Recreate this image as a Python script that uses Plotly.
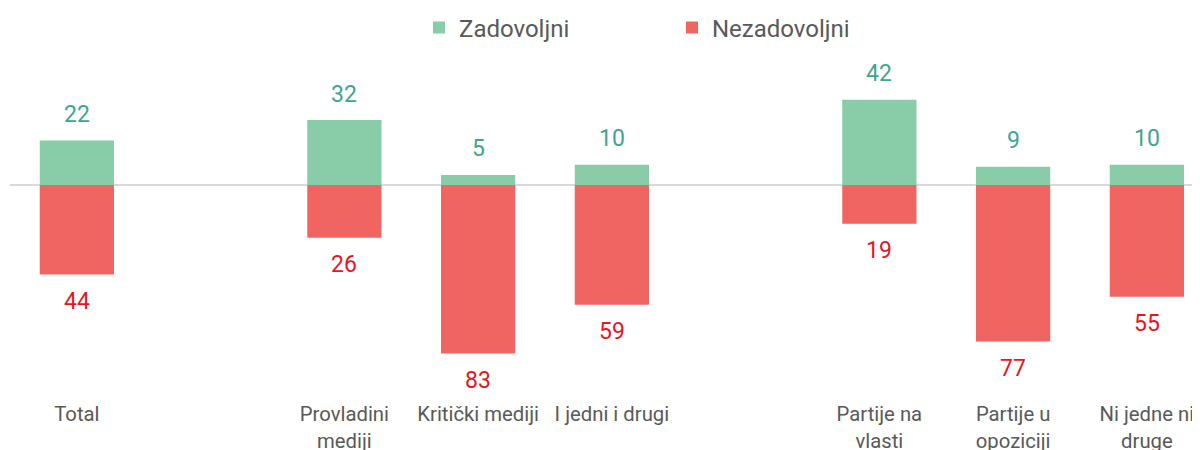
import plotly.graph_objects as go

categories = ["Total", " ", "Provladini<br>mediji", "Kritički mediji", "I jedni i drugi", "  ",
              "Partije na<br>vlasti", "Partije u<br>opoziciji", "Ni jedne ni<br>druge"]
zadovoljni = [22, None, 32, 5, 10, None, 42, 9, 10]
nezadovoljni = [44, None, 26, 83, 59, None, 19, 77, 55]

green = "#88CCA8"
red = "#F06462"
green_txt = "#3FA58E"
red_txt = "#E8141E"

fig = go.Figure()
fig.add_trace(go.Bar(
    x=categories, y=zadovoljni, name="Zadovoljni",
    marker=dict(color=green, line=dict(width=0)), width=0.555,
))
fig.add_trace(go.Bar(
    x=categories, y=[(-v if v is not None else None) for v in nezadovoljni], name="Nezadovoljni",
    marker=dict(color=red, line=dict(width=0)), width=0.555,
))

annotations = []
for c, v in zip(categories, zadovoljni):
    if v is not None:
        annotations.append(dict(x=c, y=v, text=str(v), showarrow=False, yshift=26,
                                font=dict(size=23, color=green_txt, family="Roboto")))
for c, v in zip(categories, nezadovoljni):
    if v is not None:
        annotations.append(dict(x=c, y=-v, text=str(v), showarrow=False, yshift=-27,
                                font=dict(size=23, color=red_txt, family="Roboto")))

fig.update_layout(
    width=1200, height=450,
    margin=dict(l=2, r=0, t=52, b=63),
    barmode="relative",
    plot_bgcolor="white", paper_bgcolor="white",
    font=dict(family="Roboto", color="#595959", size=20.3),
    showlegend=True,
    legend=dict(orientation="h", x=0.3414, xanchor="left", y=1 - 20 / 450, yanchor="middle",
                yref="container",
                font=dict(size=24, color="#595959"), traceorder="normal",
                itemwidth=30, entrywidth=208, entrywidthmode="pixels"),
    annotations=annotations,
)
fig.update_xaxes(type="category", range=[-0.5, 8.457], showgrid=False, showline=False,
                 ticks="", tickfont=dict(size=20.3, color="#595959"), ticklabelstandoff=5)
fig.update_yaxes(range=[-103.4, 61.6], visible=True, showgrid=False, showticklabels=False,
                 zeroline=True, zerolinecolor="#D9D9D9", zerolinewidth=2)

fig.write_html("out.html")
